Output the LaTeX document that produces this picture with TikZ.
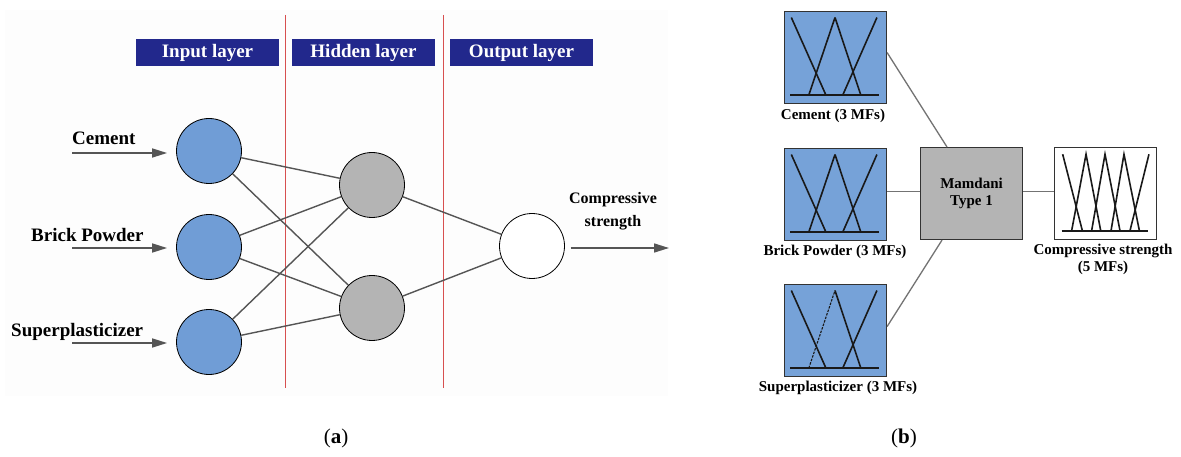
\documentclass[tikz,border=0pt]{standalone}
\usepackage{fontspec}
\setmainfont{Liberation Serif}
\usetikzlibrary{arrows.meta,calc}
\definecolor{hdrblue}{RGB}{34,40,140}
\definecolor{nodeblue}{RGB}{112,157,214}
\definecolor{boxblue}{RGB}{118,162,216}
\definecolor{nodegray}{RGB}{180,180,180}
\definecolor{lnk}{RGB}{85,85,85}
\definecolor{redline}{RGB}{215,80,80}
\tikzset{
  neuron/.style={circle,draw=black,line width=0.8pt,minimum size=65pt,inner sep=0pt},
  inneuron/.style={neuron,fill=nodeblue},
  hidneuron/.style={neuron,fill=nodegray},
  outneuron/.style={neuron,fill=white},
  link/.style={draw=lnk,line width=1.4pt},
  inarrow/.style={draw=lnk,line width=1.6pt,-{Triangle[length=15pt,width=9pt]},fill=lnk},
  header/.style={fill=hdrblue,text=white,font=\fontsize{19}{21}\selectfont\bfseries,minimum width=143pt,minimum height=27pt,inner sep=0pt},
  inlabel/.style={font=\fontsize{19}{21}\selectfont\bfseries,inner sep=0pt,anchor=base west},
  mfbox/.style={draw=black!80,line width=1.1pt,minimum width=102pt,minimum height=92pt,inner sep=0pt},
  mfline/.style={line width=1.6pt,draw=black!90},
  mflabel/.style={font=\fontsize{15}{17}\selectfont\bfseries,inner sep=0pt,align=center},
  flink/.style={draw=black!55,line width=1.3pt},
  caption/.style={font=\fontsize{21}{23}\selectfont,inner sep=0pt}
}
\newcommand{\threemf}[2]{%
  \begin{scope}[shift={#1},x=102pt,y=-92pt]
    \draw[mfline] (0.072,0.071) -- (0.411,0.914);
    \draw[mfline#2] (0.243,0.914) -- (0.5,0.071);
    \draw[mfline] (0.5,0.071) -- (0.753,0.914);
    \draw[mfline] (0.576,0.914) -- (0.911,0.071);
    \draw[mfline] (0.0625,0.914) -- (0.928,0.914);
  \end{scope}}
\begin{document}
\begin{tikzpicture}[x=1pt,y=-1pt]
\useasboundingbox (0,0) rectangle (1181,457);
\fill[white] (0,0) rectangle (1181,457);
\fill[black!0.6] (5,10) rectangle (668,396);

% ---------- (a) neural network ----------
\draw[redline,line width=1pt] (285,15) -- (285,388);
\draw[redline,line width=1pt] (443,15) -- (443,388);

\node[header] (hin)  at (207.5,52.5) {Input layer};
\node[header] (hhid) at (363.5,52.5) {Hidden layer};
\node[header] (hout) at (521.5,52.5) {Output layer};

\node[inneuron] (i1) at (209,151) {};
\node[inneuron] (i2) at (209,247) {};
\node[inneuron] (i3) at (209,342) {};
\node[hidneuron] (h1) at (372,185) {};
\node[hidneuron] (h2) at (372,308) {};
\node[outneuron] (o1) at (532,246) {};

\foreach \i in {i1,i2,i3}{
  \foreach \h in {h1,h2}{
    \draw[link] (\i) -- (\h);
  }
}
\draw[link] (h1) -- (o1);
\draw[link] (h2) -- (o1);

\node[inlabel] (lc) at (72,145) {Cement};
\node[inlabel] (lb) at (31,242) {Brick Powder};
\node[inlabel] (ls) at (11,336) {Superplasticizer};

\coordinate (a1) at (72,153);
\coordinate (a2) at (72,248);
\coordinate (a3) at (72,343);
\draw[inarrow,shorten >=9pt] (a1) -- (a1 -| i1.west);
\draw[inarrow,shorten >=9pt] (a2) -- (a2 -| i2.west);
\draw[inarrow,shorten >=9pt] (a3) -- (a3 -| i3.west);

\node[font=\fontsize{16}{23}\selectfont\bfseries,align=center,inner sep=0pt] (lcs) at (613,211) {Compressive\\strength};
\coordinate (oend) at (669,248);
\draw[inarrow] ([xshift=6pt]o1.east |- oend) -- (oend);

\node[caption] (capa) at (336,438) {(\textbf{a})};

% ---------- (b) fuzzy system ----------
\node[mfbox,fill=boxblue,anchor=north west] (bc) at (784,11) {};
\node[mfbox,fill=boxblue,anchor=north west] (bb) at (784,148) {};
\node[mfbox,fill=boxblue,anchor=north west] (bs) at (784,284) {};
\node[mfbox,fill=nodegray,anchor=north west,align=center,font=\fontsize{15}{17}\selectfont\bfseries] (mam) at (920,147) {Mamdani\\Type 1};
\node[mfbox,fill=white,anchor=north west] (bo) at (1054,147) {};

\threemf{(784,11)}{}
\threemf{(784,148)}{}
\threemf{(784,284)}{,dash pattern=on 2.5pt off 1.2pt,line width=1.1pt}

\begin{scope}[shift={(1054,147)},x=102pt,y=-92pt]
  \draw[mfline] (0.085,0.079) -- (0.278,0.91);
  \draw[mfline] (0.173,0.91) -- (0.314,0.079) -- (0.458,0.91);
  \draw[mfline] (0.369,0.91) -- (0.5,0.079) -- (0.647,0.91);
  \draw[mfline] (0.559,0.91) -- (0.686,0.079) -- (0.837,0.91);
  \draw[mfline] (0.745,0.91) -- (0.931,0.079);
  \draw[mfline] (0.075,0.91) -- (0.925,0.91);
\end{scope}

\draw[flink] ([yshift=5pt]bc.east) -- ([xshift=27pt]mam.north west);
\draw[flink] ([yshift=3pt]bb.east) -- ([yshift=2pt]mam.west);
\draw[flink] ([yshift=4pt]bs.east) -- ([xshift=22pt]mam.south west);
\draw[flink] ([yshift=2pt]mam.east) -- ([yshift=2pt]bo.west);

\node[mflabel] (lbc) at (833,116) {Cement (3 MFs)};
\node[mflabel] (lbb) at (835,252) {Brick Powder (3 MFs)};
\node[mflabel] (lbs) at (838,388) {Superplasticizer (3 MFs)};
\node[mflabel] (lbo) at (1103,259) {Compressive strength\\(5 MFs)};

\node[caption] (capb) at (904,438) {(\textbf{b})};
\end{tikzpicture}
\end{document}
